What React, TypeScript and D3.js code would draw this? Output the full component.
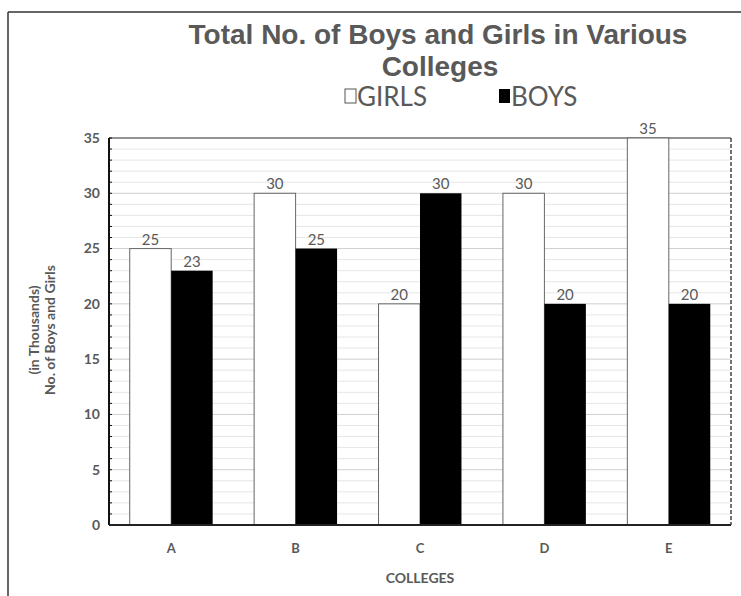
import React from "react";
import * as d3 from "d3";

const colleges = ["A", "B", "C", "D", "E"];
const girls = [25, 30, 20, 30, 35];
const boys = [23, 25, 30, 20, 20];
const yTicks = [0, 5, 10, 15, 20, 25, 30, 35];

const W = 741;
const H = 596;
const margin = { left: 109, right: 10, top: 138, bottom: 71 };

export default function App() {
  const x = d3
    .scaleBand<string>()
    .domain(colleges)
    .range([margin.left, W - margin.right])
    .paddingInner(1 / 3)
    .paddingOuter(1 / 6);
  const y = d3.scaleLinear().domain([0, 35]).range([H - margin.bottom, margin.top]);
  const minor = d3.range(0, 36, 1);
  const bw = x.bandwidth() / 2;
  const grey = "#595959";
  const labelFont = "Lato, 'Open Sans', sans-serif";
  const titleFont = "'Liberation Sans', Arial, sans-serif";

  return (
    <svg
      width={W}
      height={H}
      style={{ position: "absolute", left: 0, top: 0, background: "#fff" }}
    >
      {/* outer frame */}
      <line x1={8} y1={12} x2={W} y2={12} stroke="#333" strokeWidth={1.5} />
      <line x1={8} y1={12} x2={8} y2={H} stroke="#333" strokeWidth={1.5} />

      {/* title */}
      <text x={438} y={44} textAnchor="middle" fontFamily={titleFont} fontWeight="bold" fontSize={28} fill={grey}>
        Total No. of Boys and Girls in Various
      </text>
      <text x={440} y={76} textAnchor="middle" fontFamily={titleFont} fontWeight="bold" fontSize={28} fill={grey}>
        Colleges
      </text>

      {/* legend */}
      <rect x={345} y={89} width={11} height={14} fill="#fff" stroke="#555" strokeWidth={1} />
      <text x={357} y={106} fontFamily={labelFont} fontSize={26} fill={grey}>
        GIRLS
      </text>
      <rect x={499} y={89} width={11} height={14} fill="#000" />
      <text x={511} y={106} fontFamily={labelFont} fontSize={26} fill={grey}>
        BOYS
      </text>

      {/* gridlines */}
      {minor.map((v) => (
        <line
          key={"m" + v}
          x1={margin.left}
          x2={W - margin.right}
          y1={y(v)}
          y2={y(v)}
          stroke={v % 5 === 0 ? "#cfcfcf" : "#e6e6e6"}
          strokeWidth={1}
        />
      ))}
      <line x1={margin.left} x2={W - margin.right} y1={y(35)} y2={y(35)} stroke="#777" strokeWidth={1.5} />
      <line
        x1={W - margin.right}
        x2={W - margin.right}
        y1={y(35)}
        y2={y(0)}
        stroke="#444"
        strokeWidth={1.5}
        strokeDasharray="4 2"
      />

      {/* bars */}
      {colleges.map((c, i) => (
        <g key={c}>
          <rect
            x={x(c)!}
            y={y(girls[i])}
            width={bw}
            height={y(0) - y(girls[i])}
            fill="#fff"
            stroke="#666"
            strokeWidth={1}
          />
          <rect x={x(c)! + bw} y={y(boys[i])} width={bw} height={y(0) - y(boys[i])} fill="#000" />
          <text
            x={x(c)! + bw / 2}
            y={y(girls[i]) - 4}
            textAnchor="middle"
            fontFamily={labelFont}
            fontSize={15}
            fill={grey}
          >
            {girls[i]}
          </text>
          <text
            x={x(c)! + bw * 1.5}
            y={y(boys[i]) - 4}
            textAnchor="middle"
            fontFamily={labelFont}
            fontSize={15}
            fill={grey}
          >
            {boys[i]}
          </text>
          <text
            x={x(c)! + bw}
            y={553}
            textAnchor="middle"
            fontFamily={labelFont}
            fontWeight="bold"
            fontSize={13}
            fill={grey}
          >
            {c}
          </text>
        </g>
      ))}

      {/* y axis */}
      <line x1={margin.left} x2={margin.left} y1={y(35)} y2={y(0)} stroke="#111" strokeWidth={2} />
      {minor.map((v) => (
        <line
          key={"t" + v}
          x1={margin.left}
          x2={margin.left + 3}
          y1={y(v)}
          y2={y(v)}
          stroke="#111"
          strokeWidth={1}
        />
      ))}
      {yTicks.map((v) => (
        <text
          key={"y" + v}
          x={margin.left - 9}
          y={y(v)}
          dy="0.35em"
          textAnchor="end"
          fontFamily={labelFont}
          fontWeight="bold"
          fontSize={14}
          fill={grey}
        >
          {v}
        </text>
      ))}
      {/* x axis */}
      <line x1={margin.left} x2={W - margin.right} y1={y(0)} y2={y(0)} stroke="#222" strokeWidth={2} />

      {/* axis titles */}
      <text
        transform={`translate(39, 330) rotate(-90)`}
        textAnchor="middle"
        fontFamily={labelFont}
        fontWeight="bold"
        fontSize={14}
        fill={grey}
      >
        (in Thousands)
      </text>
      <text
        transform={`translate(55, 330) rotate(-90)`}
        textAnchor="middle"
        fontFamily={labelFont}
        fontWeight="bold"
        fontSize={14}
        fill={grey}
      >
        No. of Boys and Girls
      </text>
      <text
        x={420}
        y={583}
        textAnchor="middle"
        fontFamily={labelFont}
        fontWeight="bold"
        fontSize={14}
        fill={grey}
      >
        COLLEGES
      </text>
    </svg>
  );
}
